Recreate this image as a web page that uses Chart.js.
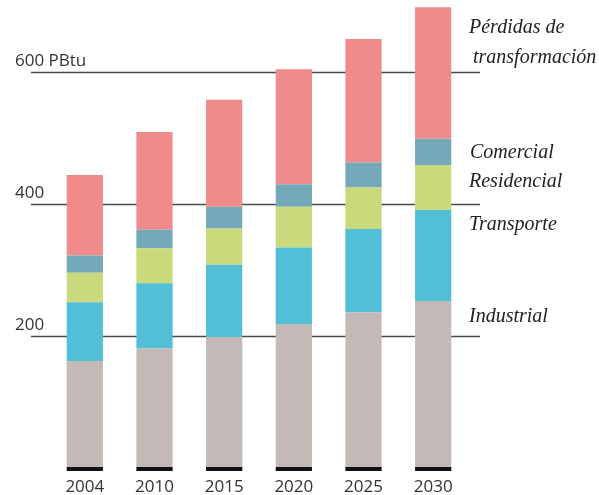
<!DOCTYPE html>
<html>
<head>
<meta charset="utf-8">
<script src="https://cdn.jsdelivr.net/npm/chart.js@4"></script>
<style>
  html, body { margin: 0; padding: 0; background: #fff; }
  #wrap { width: 599px; height: 495px; }
</style>
</head>
<body>
<div id="wrap"><canvas id="chart" width="599" height="495"></canvas></div>
<script>
// Energy use by sector, PBtu
const years = ['2004', '2010', '2015', '2020', '2025', '2030'];
const industrial  = [162, 181, 198, 218, 236, 253];
const transporte  = [89, 99, 110, 116, 126, 138];
const residencial = [45, 53, 55, 62, 63, 68];
const comercial   = [26, 28, 33, 34, 38, 40];
const perdidas    = [122, 148, 162, 174, 187, 199];

const gridTicks = [200, 400, 600];
const tickLabels = ['200', '400', '600 PBtu'];

// side labels: text lines and the axis value their baseline sits at
const sideLabels = [
    { text: 'Pérdidas de', at: 659, dx: 0 },
    { text: 'transformación', at: 614, dx: 4 },
    { text: 'Comercial', at: 470, dx: 1 },
    { text: 'Residencial', at: 426, dx: 0 },
    { text: 'Transporte', at: 361, dx: 0 },
    { text: 'Industrial', at: 221, dx: 0 }
];

const series = [
    { label: 'Industrial', data: industrial, color: '#c3b9b6' },
    { label: 'Transporte', data: transporte, color: '#52bfd7' },
    { label: 'Residencial', data: residencial, color: '#cad97b' },
    { label: 'Comercial', data: comercial, color: '#73a9b8' },
    { label: 'Pérdidas de transformación', data: perdidas, color: '#f08b8b' }
];

// gridlines behind the bars, tick text, black base strips, side labels
const decorPlugin = {
    id: 'decor',
    beforeDatasetsDraw(chart) {
        const { ctx, chartArea, scales } = chart;
        ctx.save();
        ctx.strokeStyle = '#4a4a4a';
        ctx.lineWidth = 1.5;
        gridTicks.forEach((v, i) => {
            const y = Math.round(scales.y.getPixelForValue(v)) + 0.5;
            ctx.beginPath();
            ctx.moveTo(chartArea.left - 19, y);
            ctx.lineTo(chartArea.right + 12, y);
            ctx.stroke();

            ctx.fillStyle = '#333';
            ctx.font = '17px "Open Sans", sans-serif';
            ctx.textAlign = 'left';
            ctx.textBaseline = 'alphabetic';
            ctx.fillText(tickLabels[i], 15, y - 7);
        });
        ctx.restore();
    },
    afterDatasetsDraw(chart) {
        const { ctx, chartArea, scales } = chart;
        ctx.save();
        // black strips under each bar
        const meta = chart.getDatasetMeta(0);
        const y0 = scales.y.getPixelForValue(0);
        ctx.fillStyle = '#111';
        meta.data.forEach(bar => {
            ctx.fillRect(bar.x - bar.width / 2, y0 - 1, bar.width, 4);
        });

        // year labels
        ctx.fillStyle = '#333';
        ctx.font = '17px "Open Sans", sans-serif';
        ctx.textAlign = 'center';
        ctx.textBaseline = 'alphabetic';
        meta.data.forEach((bar, i) => {
            ctx.fillText(years[i], bar.x, y0 + 24);
        });

        // series names on the right
        ctx.fillStyle = '#222';
        ctx.font = 'italic 20px "Liberation Serif", serif';
        ctx.textAlign = 'left';
        sideLabels.forEach(l => {
            ctx.fillText(l.text, chartArea.right + 1 + l.dx, scales.y.getPixelForValue(l.at));
        });
        ctx.restore();
    }
};

new Chart(document.getElementById('chart'), {
    type: 'bar',
    data: {
        labels: years,
        datasets: series.map(s => ({
            label: s.label,
            data: s.data,
            backgroundColor: s.color,
            borderWidth: 0,
            barPercentage: 0.52,
            categoryPercentage: 1
        }))
    },
    options: {
        responsive: false,
        animation: false,
        layout: { padding: { left: 50, right: 131, top: 6, bottom: 27 } },
        plugins: {
            legend: { display: false },
            tooltip: { enabled: false }
        },
        scales: {
            x: { stacked: true, display: false },
            y: { stacked: true, display: false, min: 0, max: 700 }
        }
    },
    plugins: [decorPlugin]
});
</script>
</body>
</html>
